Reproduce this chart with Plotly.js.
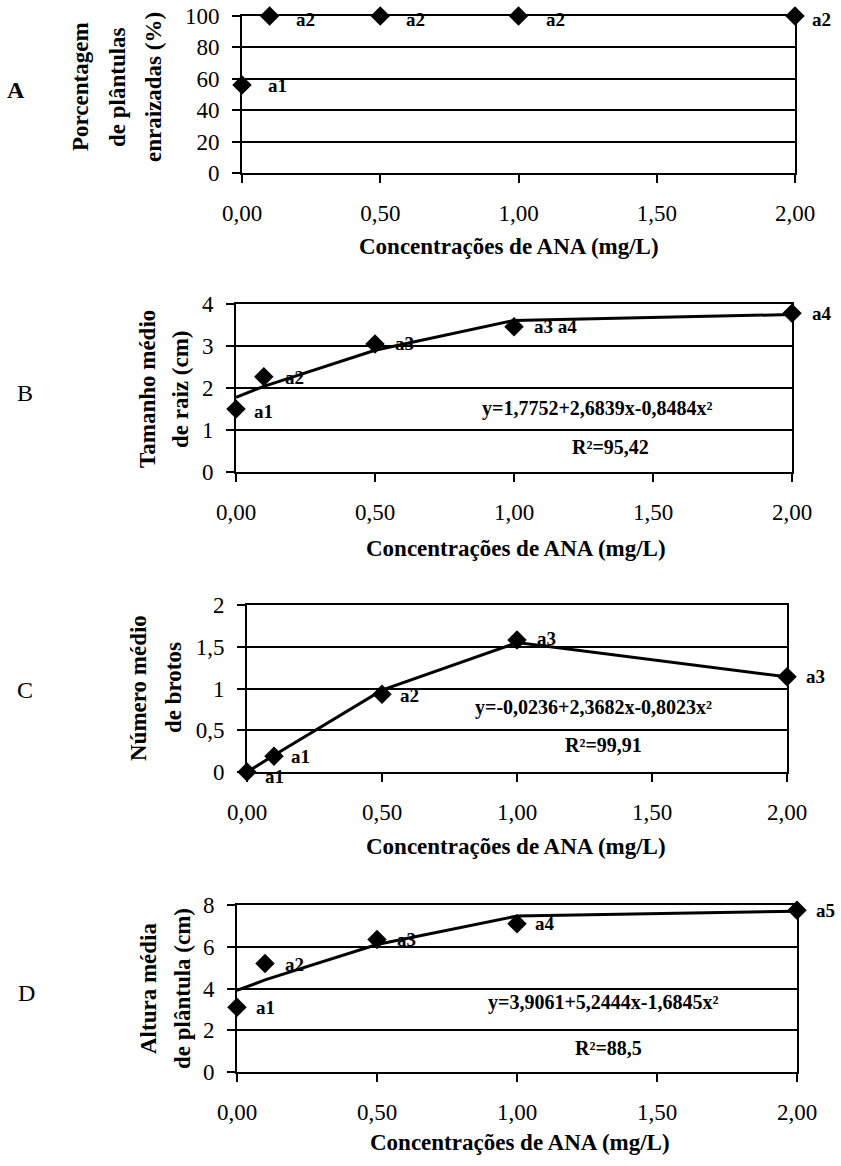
<!DOCTYPE html>
<html>
<head>
<meta charset="utf-8">
<script src="https://cdn.plot.ly/plotly-3.0.1.min.js"></script>
<style>html,body{margin:0;padding:0;background:#fff;}#chart{width:841px;height:1166px;}</style>
</head>
<body>
<div id="chart"></div>
<script>
// ---- data ----
var conc = [0, 0.1, 0.5, 1, 2];
var xTickVals = [0, 0.5, 1, 1.5, 2];
var xTickText = ['0,00', '0,50', '1,00', '1,50', '2,00'];

var rootPct = [56, 100, 100, 100, 100];
var rootPctLabels = ['a1', 'a2', 'a2', 'a2', 'a2'];
var yTicksA = [0, 20, 40, 60, 80, 100];
var yTextA = ['0', '20', '40', '60', '80', '100'];

var rootLen = [1.5, 2.27, 3.05, 3.46, 3.78];
var rootLenFit = [1.78, 2.04, 2.90, 3.61, 3.75];
var rootLenLabels = ['a1', 'a2', 'a3', 'a3 a4', 'a4'];
var yTicksB = [0, 1, 2, 3, 4];
var yTextB = ['0', '1', '2', '3', '4'];

var shoots = [0, 0.19, 0.93, 1.58, 1.14];
var shootsFit = [0, 0.2, 0.98, 1.55, 1.14];
var shootsLabels = ['a1', 'a1', 'a2', 'a3', 'a3'];
var yTicksC = [0, 0.5, 1, 1.5, 2];
var yTextC = ['0', '0,5', '1', '1,5', '2'];

var height = [3.1, 5.2, 6.35, 7.1, 7.75];
var heightFit = [3.91, 4.41, 6.11, 7.47, 7.70];
var heightLabels = ['a1', 'a2', 'a3', 'a4', 'a5'];
var yTicksD = [0, 2, 4, 6, 8];
var yTextD = ['0', '2', '4', '6', '8'];

var xTitle = 'Concentrações de ANA (mg/L)';

// ---- layout helpers ----
var W = 841, H = 1166;
function px(x) { return x / W; }
function py(y) { return 1 - y / H; }
var FONT = 'Liberation Serif, Times New Roman, serif';

var panels = [
  {letter: 'A', vals: rootPct, fit: null, labels: rootPctLabels, range: [0, 100], tv: yTicksA, tt: yTextA,
   box: [242, 795, 16, 173], ytitle: ['Porcentagem', 'de plântulas', 'enraizadas (%)'], ytx: [80, 117, 153], yty: 87,
   letterPos: [16, 90], xtitlePos: [509, 247], eq: null, r2: null,
   shifts: [[24, 0], [24, -3], [24, -3], [25, -3], [15, -3]]},
  {letter: 'B', vals: rootLen, fit: rootLenFit, labels: rootLenLabels, range: [0, 4], tv: yTicksB, tt: yTextB,
   box: [236, 792, 304, 472], ytitle: ['Tamanho médio', 'de raiz (cm)'], ytx: [147, 180], yty: 389,
   letterPos: [25, 393], xtitlePos: [516, 548], eq: ['y=1,7752+2,6839x-0,8484x²', 597, 408], r2: ['R²=95,42', 610, 447],
   shifts: [[16, -2], [19, -1], [18, 0], [18, 0], [18, 0]]},
  {letter: 'C', vals: shoots, fit: shootsFit, labels: shootsLabels, range: [0, 2], tv: yTicksC, tt: yTextC,
   box: [247, 787, 605, 772], ytitle: ['Número médio', 'de brotos'], ytx: [138, 173], yty: 688,
   letterPos: [25, 690], xtitlePos: [516, 847], eq: ['y=-0,0236+2,3682x-0,8023x²', 593, 707], r2: ['R²=99,91', 603, 745],
   shifts: [[16, -4], [15, 0], [16, -1], [18, 2], [17, 0]]},
  {letter: 'D', vals: height, fit: heightFit, labels: heightLabels, range: [0, 8], tv: yTicksD, tt: yTextD,
   box: [237, 797, 905, 1072], ytitle: ['Altura média', 'de plântula (cm)'], ytx: [148, 182], yty: 989,
   letterPos: [26, 993], xtitlePos: [520, 1142], eq: ['y=3,9061+5,2444x-1,6845x²', 603, 1003], r2: ['R²=88,5', 608, 1048],
   shifts: [[17, 0], [18, -1], [18, 0], [16, 0], [17, 0]]}
];

var data = [];
var layout = {
  width: W, height: H, margin: {l: 0, r: 0, t: 0, b: 0},
  paper_bgcolor: '#fff', plot_bgcolor: '#fff', showlegend: false,
  font: {family: FONT, color: '#000', size: 22},
  annotations: []
};

panels.forEach(function (p, i) {
  var n = i === 0 ? '' : String(i + 1);
  var xa = 'x' + n, ya = 'y' + n;
  layout['xaxis' + n] = {
    domain: [px(p.box[0]), px(p.box[1])], anchor: ya, range: [0, 2],
    tickvals: xTickVals, ticktext: xTickText, ticks: 'outside', ticklen: 8, tickwidth: 2,
    tickcolor: '#000', showline: true, linecolor: '#000', linewidth: 2, mirror: true,
    showgrid: false, zeroline: false, ticklabelstandoff: 10, fixedrange: true,
    tickfont: {family: FONT, size: 23, color: '#000'}
  };
  layout['yaxis' + n] = {
    domain: [py(p.box[3]), py(p.box[2])], anchor: xa, range: p.range,
    tickvals: p.tv, ticktext: p.tt, ticks: 'outside', ticklen: 8, tickwidth: 2,
    tickcolor: '#000', showline: true, linecolor: '#000', linewidth: 2, mirror: true,
    showgrid: true, gridcolor: '#000', gridwidth: 2, zeroline: false,
    ticklabelstandoff: 8, fixedrange: true,
    tickfont: {family: FONT, size: 23, color: '#000'}
  };
  if (p.fit) {
    data.push({x: conc, y: p.fit, xaxis: xa, yaxis: ya, type: 'scatter', mode: 'lines',
      line: {color: '#000', width: 3}, cliponaxis: false, hoverinfo: 'skip'});
  }
  data.push({x: conc, y: p.vals, xaxis: xa, yaxis: ya, type: 'scatter', mode: 'markers',
    marker: {symbol: 'diamond', size: 15, color: '#000'}, cliponaxis: false});

  p.labels.forEach(function (lab, k) {
    layout.annotations.push({xref: xa, yref: ya, x: conc[k], y: p.vals[k], text: lab,
      showarrow: false, xanchor: 'left', yanchor: 'middle',
      xshift: p.shifts[k][0], yshift: p.shifts[k][1],
      font: {family: FONT, size: 19, color: '#000', weight: 'bold'}});
  });

  p.ytitle.forEach(function (line, k) {
    layout.annotations.push({xref: 'paper', yref: 'paper', x: px(p.ytx[k]), y: py(p.yty),
      text: '<b>' + line + '</b>', textangle: -90, showarrow: false,
      xanchor: 'center', yanchor: 'middle', font: {family: FONT, size: 23, color: '#000'}});
  });

  layout.annotations.push({xref: 'paper', yref: 'paper', x: px(p.xtitlePos[0]), y: py(p.xtitlePos[1]),
    text: '<b>' + xTitle + '</b>', showarrow: false, xanchor: 'center', yanchor: 'middle',
    font: {family: FONT, size: 23, color: '#000'}});

  layout.annotations.push({xref: 'paper', yref: 'paper', x: px(p.letterPos[0]), y: py(p.letterPos[1]),
    text: i === 0 ? '<b>' + p.letter + '</b>' : p.letter, showarrow: false, xanchor: 'center', yanchor: 'middle',
    font: {family: FONT, size: 24, color: '#000'}});

  if (p.eq) {
    layout.annotations.push({xref: 'paper', yref: 'paper', x: px(p.eq[1]), y: py(p.eq[2]),
      text: '<b>' + p.eq[0] + '</b>', showarrow: false, xanchor: 'center', yanchor: 'middle',
      font: {family: FONT, size: 20, color: '#000'}});
    layout.annotations.push({xref: 'paper', yref: 'paper', x: px(p.r2[1]), y: py(p.r2[2]),
      text: '<b>' + p.r2[0] + '</b>', showarrow: false, xanchor: 'center', yanchor: 'middle',
      font: {family: FONT, size: 20, color: '#000'}});
  }
});

Plotly.newPlot('chart', data, layout, {staticPlot: true, displayModeBar: false});
</script>
</body>
</html>
